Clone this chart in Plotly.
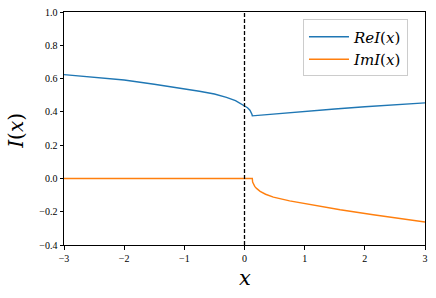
import plotly.graph_objects as go

# Real part
re_x = [-3, -2.5, -2, -1.5, -1, -0.75, -0.5, -0.3, -0.15, 0, 0.05, 0.09, 0.11, 0.125, 0.13,
        0.5, 1, 1.5, 2, 2.5, 3]
re_y = [0.624, 0.608, 0.591, 0.566, 0.539, 0.524, 0.507, 0.487, 0.467, 0.436, 0.425, 0.41, 0.398, 0.384, 0.376,
        0.388, 0.403, 0.417, 0.431, 0.443, 0.454]

# Imaginary part
im_x = [-3, 0.13, 0.135, 0.15, 0.17, 0.2, 0.26, 0.35, 0.48, 0.75, 1.03, 1.3, 1.59, 2.14, 2.5, 3]
im_y = [0.0, 0.0, -0.022, -0.035, -0.048, -0.06, -0.078, -0.095, -0.112, -0.135, -0.154, -0.171, -0.188, -0.218, -0.236, -0.262]

x_ticks = [-3, -2, -1, 0, 1, 2, 3]
x_labels = ["\u22123", "\u22122", "\u22121", "0", "1", "2", "3"]
y_ticks = [-0.4, -0.2, 0.0, 0.2, 0.4, 0.6, 0.8, 1.0]
y_labels = ["\u22120.4", "\u22120.2", "0.0", "0.2", "0.4", "0.6", "0.8", "1.0"]

TICKF = "Liberation Serif"
MATHF = "DejaVu Serif"

fig = go.Figure()
fig.add_trace(go.Scatter(x=re_x, y=re_y, mode="lines", name="<i>ReI</i>(<i>x</i>)",
                         line=dict(color="#1f77b4", width=1.4)))
fig.add_trace(go.Scatter(x=im_x, y=im_y, mode="lines", name="<i>ImI</i>(<i>x</i>)",
                         line=dict(color="#ff7f0e", width=1.4)))

fig.add_shape(type="line", x0=0, x1=0, y0=0, y1=1, xref="x", yref="paper",
              line=dict(color="black", width=1.3, dash="4px,2px"))

axis_common = dict(showgrid=False, zeroline=False, showline=True, linecolor="black", linewidth=1,
                   mirror=True, ticks="outside", ticklen=3.5, tickwidth=0.8, tickcolor="black",
                   automargin=False,
                   tickfont=dict(family=TICKF, size=10, color="black"))

fig.update_xaxes(range=[-3, 3], tickvals=x_ticks, ticktext=x_labels, **axis_common)
fig.update_yaxes(range=[-0.4, 1.0], tickvals=y_ticks, ticktext=y_labels, **axis_common)

fig.add_annotation(text="<i>x</i>", x=0.5, y=-0.14, xref="paper", yref="paper",
                   xanchor="center", yanchor="middle", showarrow=False,
                   font=dict(family=MATHF, size=21, color="black"))
fig.add_annotation(text="<i>I</i>(<i>x</i>)", x=-0.133, y=0.49, xref="paper", yref="paper",
                   xanchor="center", yanchor="middle", showarrow=False, textangle=-90,
                   font=dict(family=MATHF, size=20, color="black"))

fig.update_layout(
    width=436, height=298,
    margin=dict(l=64, r=11, t=12, b=53),
    plot_bgcolor="white", paper_bgcolor="white",
    font=dict(family=MATHF, color="black"),
    legend=dict(x=0.662, y=0.968, xanchor="left", yanchor="top",
                bgcolor="rgba(255,255,255,0.8)", bordercolor="#cccccc", borderwidth=1,
                font=dict(family=MATHF, size=15, color="black"),
                tracegroupgap=6, itemwidth=40),
)

fig.write_html("out.html", config={"displayModeBar": False},
               post_script="document.body.style.margin='0';document.body.style.padding='0';")
